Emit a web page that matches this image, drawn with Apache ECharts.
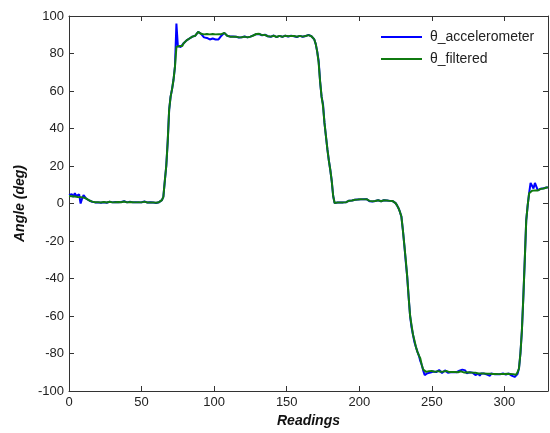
<!DOCTYPE html>
<html>
<head>
<meta charset="utf-8">
<script src="https://cdn.jsdelivr.net/npm/echarts@6/dist/echarts.min.js"></script>
<style>
html,body{margin:0;padding:0;background:#fff;}
#c{width:550px;height:433px;}
</style>
</head>
<body>
<div id="c"></div>
<script>
// Readings 0..330 (one value per reading)
const thetaFiltered = [
  4.0,4.0,3.9,3.8,3.7,3.6,3.5,3.5,3.4,3.3,
  3.2,3.0,2.6,2.0,1.6,1.2,1.0,0.8,0.7,0.6,
  0.7,0.6,0.5,0.7,0.8,0.6,0.5,0.7,0.9,0.8,
  0.6,0.5,0.7,1.0,0.8,0.6,0.7,0.9,1.1,0.8,
  0.6,0.5,0.8,1.0,0.7,0.5,0.6,0.9,0.7,0.5,
  0.6,0.8,1.0,0.7,0.5,0.4,0.6,0.8,0.6,0.5,
  0.4,0.5,0.7,1.0,1.8,3.5,12,20,33,50,
  57,61,66,73,83.5,84,84,83.5,84,85.5,
  86.5,87,87.5,88,88.5,89,89,89.5,90.5,91.5,
  91,90.5,90.3,90.2,90.3,90.4,90.3,90.2,90.3,90.4,
  90.3,90.2,90.3,90.3,90.4,90.3,90.3,91,90,89.5,
  89.2,89.0,88.8,89.0,89.3,89.0,88.7,88.6,88.8,88.7,
  88.9,89.0,88.8,88.6,88.7,89.0,89.3,89.6,90.0,90.4,
  90.8,90.5,90.2,89.8,89.6,89.9,89.5,89.2,89.4,89.0,
  89.2,89.5,89.0,88.8,89.2,89.4,89.0,88.9,89.3,89.5,
  89.6,89.2,89.0,89.4,89.6,89.3,89.0,88.9,89.2,89.4,
  89.3,89.0,89.1,89.3,89.5,89.8,89.6,89.2,88.6,87.5,
  85,81,75,65,57,52,43,36,29,23,
  18,12,4,0.3,0.8,0.5,0.9,0.6,0.4,0.6,
  0.8,0.7,1.0,1.5,1.8,1.6,1.8,2.0,2.2,2.1,
  2.4,2.3,2.0,2.2,2.1,2.3,2.0,1.4,1.0,1.2,
  1.4,1.3,1.5,1.7,1.4,1.2,1.5,1.7,1.9,1.6,
  1.2,1.4,1.6,1.3,0.8,0.2,-1.0,-2.5,-4.5,-7,
  -14,-22,-30,-39,-50,-60,-65,-70,-73,-76.5,
  -79,-81,-82.5,-86,-88.5,-89.5,-89.8,-89.6,-89.4,-89.6,
  -89.3,-89.5,-89.8,-89.6,-89.4,-89.5,-89.7,-89.9,-89.6,-89.4,
  -89.3,-89.6,-89.9,-90.1,-89.8,-89.6,-89.9,-90.2,-90.0,-89.7,
  -89.5,-89.8,-90.1,-90.3,-90.0,-89.8,-90.1,-90.4,-90.2,-90.0,
  -90.3,-90.5,-90.7,-90.4,-90.6,-90.9,-90.7,-90.5,-90.8,-91.0,
  -90.8,-90.6,-90.9,-91.1,-90.9,-90.7,-91.0,-91.2,-90.9,-90.7,
  -90.9,-91.1,-90.8,-90.6,-90.9,-91.2,-91.0,-91.1,-91.3,-90.0,
  -88,-80,-68,-50,-30,-9,-1,5.5,6.5,6.8,
  6.5,7.0,7.2,7.0,7.5,7.8,7.6,8.0,8.3,8.5,
  8.6
];

const thetaAccelerometer = [
  4.5,5.5,5.0,3.5,5.5,4.0,3.0,4.8,0.0,2.5,
  4.5,3.5,2.5,2.0,1.6,1.3,0.9,0.8,0.6,0.7,
  0.6,0.7,0.4,0.8,0.7,0.6,0.4,0.8,0.9,0.7,
  0.6,0.4,0.8,1.0,0.7,0.6,0.8,0.9,1.2,0.7,
  0.6,0.4,0.9,1.0,0.6,0.5,0.7,0.9,0.6,0.5,
  0.7,0.8,1.1,0.6,0.5,0.3,0.7,0.8,0.5,0.5,
  0.3,0.6,0.7,1.1,1.8,3.5,12,20,33,50,
  57,61,66,73,96,84,84,83.5,84,85.5,
  86.5,87,87.5,88,88.5,89,89,89.5,90.5,91.5,
  91,90.5,90.3,88.6,88.5,88.3,88.0,87.5,87.0,88.0,
  88.3,87.5,86.5,87.5,88.5,89.5,90.3,91,90,89.5,
  89.1,89.1,88.7,89.1,89.3,88.9,88.7,88.5,88.9,88.7,
  88.9,89.1,88.7,88.6,88.8,89.0,89.2,89.7,90.0,90.3,
  90.8,90.4,90.2,89.7,89.6,90.0,89.4,89.2,89.5,88.9,
  89.2,89.6,88.9,88.7,89.3,89.4,88.9,88.9,89.4,89.5,
  89.7,89.1,89.0,89.5,89.6,89.2,89.0,88.8,89.3,89.4,
  89.3,88.9,89.2,89.3,89.4,89.9,89.5,89.2,88.5,87.5,
  85,81,76,65,57,53,43,36,29,23,
  18,12,4,0.2,0.8,0.5,1.0,0.6,0.3,0.6,
  0.8,0.7,1.0,1.5,1.9,1.6,1.8,2.0,2.3,2.1,
  2.4,2.2,2.0,2.3,2.1,2.3,2.0,1.2,0.6,1.0,
  1.4,1.3,1.5,1.7,1.4,1.2,1.5,1.7,1.9,1.6,
  1.2,1.4,1.6,1.3,0.8,0.2,-1.0,-2.5,-4.5,-7,
  -14,-22,-31,-39,-50,-60,-66,-70,-74,-76.5,
  -79,-81,-84,-86,-89,-91.5,-91.0,-90.5,-89.8,-90.2,
  -90.5,-89.6,-89.5,-89.9,-89.2,-88.8,-89.7,-90.4,-89.6,-89.0,
  -89.6,-90.3,-91.2,-90.0,-89.5,-89.9,-90.4,-90.0,-89.4,-89.2,
  -89.0,-88.6,-88.7,-89.0,-90.5,-90.2,-90.0,-90.8,-90.2,-90.5,
  -91.5,-90.6,-90.7,-91.8,-90.6,-91.2,-90.7,-90.4,-91.3,-91.1,
  -91.9,-90.6,-91.2,-91.0,-90.8,-91.0,-91.3,-91.1,-90.7,-90.7,
  -90.0,-91.2,-90.8,-90.7,-91.3,-91.8,-91.0,-92.5,-93.0,-91.0,
  -88,-80,-68,-50,-30,-9,-1,5.5,11,11,
  8,11,11.2,7.0,7.4,7.9,7.6,8.1,8.3,8.5,
  8.6
];

const seriesNames = ['θ_accelerometer', 'θ_filtered'];
const xTicks = [0, 50, 100, 150, 200, 250, 300];
const yTicks = [-100, -80, -60, -40, -20, 0, 20, 40, 60, 80, 100];

const toPairs = arr => arr.map((v, i) => [i, v]);

const frameColor = '#333';
const font = 'Arial, Liberation Sans, sans-serif';
const labelStyle = { color: '#222', fontSize: 13, fontFamily: font };
const nameStyle = { color: '#111', fontSize: 14, fontWeight: 'bold', fontStyle: 'italic', fontFamily: font };

function frameAxis(extra) {
  return Object.assign({
    type: 'value',
    axisLine: { show: true, onZero: false, lineStyle: { color: frameColor, width: 1 } },
    axisTick: { show: true, inside: true, length: 5, lineStyle: { color: frameColor } },
    splitLine: { show: false }
  }, extra);
}

const chart = echarts.init(document.getElementById('c'), null, { renderer: 'canvas' });
chart.setOption({
  animation: false,
  backgroundColor: '#fff',
  grid: { left: 69, right: 2, top: 16, bottom: 40 },
  legend: {
    data: seriesNames,
    orient: 'vertical',
    left: 381,
    top: 30,
    padding: 0,
    icon: 'rect',
    itemWidth: 41,
    itemHeight: 2,
    itemGap: 8,
    textStyle: { color: '#222', fontSize: 14, fontFamily: font, padding: [0, 0, 0, 3] }
  },
  xAxis: [
    frameAxis({
      position: 'bottom', min: xTicks[0], max: 330, interval: 50,
      axisLabel: Object.assign({ margin: 5, showMaxLabel: false }, labelStyle),
      name: 'Readings', nameLocation: 'middle', nameGap: 23, nameTextStyle: nameStyle
    }),
    frameAxis({
      position: 'top', min: xTicks[0], max: 330, interval: 50,
      axisLabel: { show: false }
    })
  ],
  yAxis: [
    frameAxis({
      position: 'left', min: yTicks[0], max: yTicks[yTicks.length - 1], interval: 20,
      axisLabel: Object.assign({ margin: 5 }, labelStyle),
      name: 'Angle (deg)', nameLocation: 'middle', nameGap: 31, nameTextStyle: nameStyle
    }),
    frameAxis({
      position: 'right', min: yTicks[0], max: yTicks[yTicks.length - 1], interval: 20,
      axisLabel: { show: false }
    })
  ],
  series: [
    {
      name: seriesNames[0], type: 'line', xAxisIndex: 0, yAxisIndex: 0,
      data: toPairs(thetaAccelerometer), showSymbol: false, symbol: 'none',
      lineStyle: { color: '#0000ff', width: 2 }, itemStyle: { color: '#0000ff' }, z: 2
    },
    {
      name: seriesNames[1], type: 'line', xAxisIndex: 0, yAxisIndex: 0,
      data: toPairs(thetaFiltered), showSymbol: false, symbol: 'none',
      lineStyle: { color: '#107a10', width: 2 }, itemStyle: { color: '#107a10' }, z: 3
    }
  ]
});
</script>
</body>
</html>
